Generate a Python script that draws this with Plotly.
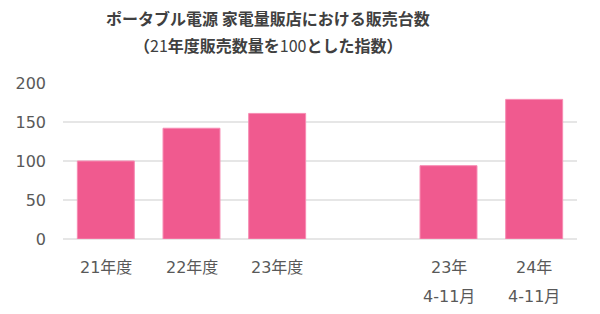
import plotly.graph_objects as go

# ---- data ----
categories = ["21年度", "22年度", "23年度", "23年 4-11月", "24年 4-11月"]
label_line1 = ["21年度", "22年度", "23年度", "23年", "24年"]
label_line2 = ["", "", "", "4-11月", "4-11月"]
values = [100, 142, 161, 94, 179]
title_line1 = "<b>ポータブル電源 家電量販店における販売台数</b>"
title_line2 = "<b>（</b>21<b>年度販売数量を</b>100<b>とした指数）</b>"
y_ticks = [0, 50, 100, 150, 200]

# axis order with a blank slot between fiscal-year and period bars
axis_order = categories[:3] + [" "] + categories[3:]

BAR = "#F05A8F"
TXT = "#595959"
TITLE = "#404040"
GRID = "#E6E6E6"
FONT = "DejaVu Sans, Noto Sans CJK JP, sans-serif"

fig = go.Figure(
    go.Bar(
        x=categories,
        y=values,
        marker=dict(color=BAR, line=dict(color="#F78BB3", width=1)),
        hoverinfo="skip",
    )
)

annotations = [
    dict(text=title_line1, xref="paper", yref="paper", x=0.399, y=1.4195,
         xanchor="center", yanchor="middle", showarrow=False,
         font=dict(family="Noto Sans CJK JP, sans-serif", size=16, color=TITLE)),
    dict(text=title_line2, xref="paper", yref="paper", x=0.399, y=1.2407,
         xanchor="center", yanchor="middle", showarrow=False,
         font=dict(family="Noto Sans CJK JP, sans-serif", size=16, color=TITLE)),
]
for cat, l1, l2 in zip(categories, label_line1, label_line2):
    annotations.append(dict(text=l1, xref="x", yref="paper", x=cat, y=0, yshift=-28.7,
                            xanchor="center", yanchor="middle", showarrow=False,
                            font=dict(family=FONT, size=16, color=TXT)))
    if l2:
        annotations.append(dict(text=l2, xref="x", yref="paper", x=cat, y=0, yshift=-57.7,
                                xanchor="center", yanchor="middle", showarrow=False,
                                font=dict(family=FONT, size=16, color=TXT)))

fig.update_layout(
    width=600, height=314,
    margin=dict(l=63, r=23, t=82.7, b=74.7),
    paper_bgcolor="white", plot_bgcolor="white",
    bargap=0.335,
    showlegend=False,
    font=dict(family=FONT, size=16, color=TXT),
    xaxis=dict(type="category", categoryorder="array", categoryarray=axis_order,
               range=[-0.5, 5.5], showticklabels=False, showgrid=False,
               showline=False, ticks="", fixedrange=True),
    yaxis=dict(range=[0, 200], tickvals=y_ticks, showgrid=True, gridcolor=GRID,
               gridwidth=2, zeroline=True, zerolinecolor=GRID, zerolinewidth=2,
               showline=False, ticks="", ticklabelstandoff=16,
               tickfont=dict(family=FONT, size=16, color=TXT), fixedrange=True),
    annotations=annotations,
)

fig.write_html("out.html")
